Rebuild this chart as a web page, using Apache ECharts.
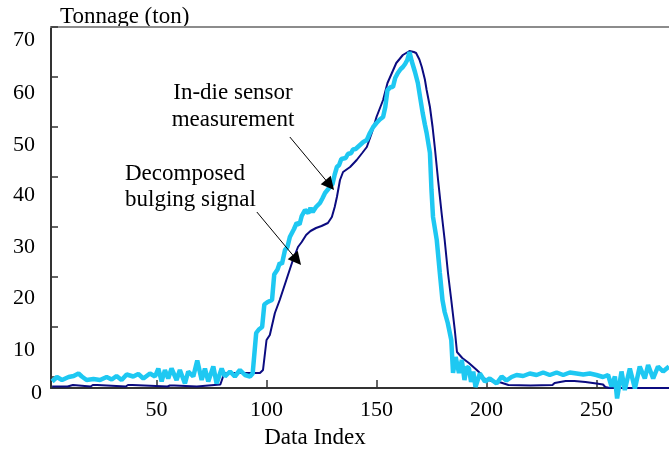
<!DOCTYPE html>
<html><head><meta charset="utf-8">
<script src="https://cdn.jsdelivr.net/npm/echarts@6/dist/echarts.min.js"></script>
<style>html,body{margin:0;padding:0;background:#fff}#c{width:669px;height:450px}</style>
</head><body><div id="c"></div>
<script>
// Data: [data index, tonnage]
const sensorMeasurement = [
[2.5,-0.9],[4.7,0],[7,-0.6],[10,0],[12.3,0.2],[14.5,0.7],[16,0.1],[18.2,-0.6],[21.3,-0.4],[24.3,-0.6],[27.3,0],[29.6,-0.5],[31.8,0.2],[34.1,-0.6],[36.4,0.5],[39.4,0.1],[41.7,0.6],[44,-0.3],[47,0.7],[49.3,0.1],[50.8,1.7],[52.3,-0.9],[53.8,1.4],[55.3,-0.3],[56.8,1.7],[59.1,-0.6],[60.6,1.4],[62.9,-1.3],[64.4,1.1],[66.7,0.1],[68.5,3.3],[70.5,-0.6],[72,1.7],[73.5,-0.9],[75.8,2.1],[77.3,-1.3],[79.6,1.7],[81.1,0.1],[83.4,1.1],[85.6,0.1],[87.9,1.4],[90.2,0.4],[92.5,0.1],[93.7,0.7],[94.5,0.5],[95.3,8.8],
[96.5,9.5],[98,10],[99,14.5],[100.5,15],[102.5,15.4],[103.5,20.5],[105,21.5],[106,22.8],[107,22.6],[108.4,25.4],[109.5,26],[110.6,28],[111.5,27.8],[112.5,29.6],[113.7,30.8],[115,30.5],[116,32.2],[117.5,33.4],[119,32.8],[120,33.8],[121,33],[122.5,34],[124.3,34.8],[125.5,35.8],[126.6,36.8],[127.5,36.6],[128.8,38],[130,38.6],[131,40.5],[132,42],[133,42.4],[134,43.6],[134.8,44],[136,43.8],[137,44.6],[138.5,44.8],[139.3,45.5],[140.5,45.6],[142.5,46.4],[144,47],[145.6,47.4],[147,48.8],[148.5,50],[150,50.8],[151.5,51.5],[153,52],[154,54],[154.7,54],[155,57.4],[156.5,58],[157.5,58],[158.5,59.8],[159.7,60.8],[161,61.6],[162,62],[163,62.6],[164,63.4],[165,65],[166,63.2],[166.6,62.8],[167.5,61],[168.8,58.8],[170,55.5],[171,52.8],[172,50.5],[172.8,48.8],[174.3,44.8],[175,37.4],[175.7,32],[177.4,27.4],[178.8,20.8],[180,15.4],[181,13],[182.4,10.8],[184,7.4],[184.8,0.8],[186,4],[187.5,0.8],[188.8,3.4],[190,-0.6],[191,2],[192,1.8],[193,-1],[194,1.1],[195,-2],[197,0.7],[199.3,-0.9],[201.5,-0.3],[204.6,-1.3],[206.9,0.1],[209.1,-0.7],[211.4,0],[213.7,0.4],[216.7,0.2],[219.7,0.7],[222.8,0.4],[225.8,0.9],[228.8,0.4],[231.9,0.9],[234.9,0.4],[237.9,0.9],[241,0.7],[244,0.5],[247,0.7],[250,0.4],[253,0],[255.3,0.4],[256.9,-1.9],[258.4,0.1],[259.4,-4.3],[261.4,1.1],[262.9,-2.6],[265.2,1.7],[267.5,-2.3],[269.7,2.1],[272,-0.3],[273.5,2.4],[275.8,-0.3],[278,2.1],[280.3,1.1],[283,2.1]
];
const bulgingSignal = [
[2.5,-1.9],[9.5,-1.9],[10,-1.6],[12,-1.6],[12.5,-1.9],[20,-1.9],[21,-1.6],[23,-1.6],[23.5,-1.9],[36,-1.9],[37,-1.6],[39,-1.6],[39.5,-1.9],[55,-1.9],[56,-1.7],[58,-1.7],[58.5,-1.9],[68.3,-1.9],[68.6,-1.5],[79,-1.5],[80.5,0.4],[81.5,0.8],[97,0.8],[98.4,1.4],[100,7.4],[101.5,8.4],[103.8,12.8],[106,15.4],[109,19.4],[112,23.4],[114.3,26],[116,27],[118,28.4],[120,29.2],[122.5,29.8],[125,30.2],[127.9,30.8],[129.7,32],[131,34],[132,36],[133.4,39.4],[134.8,41],[138,42],[141,43.4],[143.5,44.8],[145.6,46],[148,49],[150,52],[153,55.4],[155,58.8],[157,60.8],[159,62.8],[162,64.4],[165,65.2],[167,65],[168,64.8],[169.5,63.5],[170.6,62],[172,59.5],[172.8,57.4],[174.3,54],[175.5,50],[176.5,46],[178,39.4],[179.6,32.8],[181,27.4],[182.5,20.8],[184,15.4],[185.6,9.4],[186.6,5],[187.5,4.8],[189,3.8],[192,2.8],[195.6,1.4],[197,0.8],[199,-0.3],[203,-0.9],[206.5,-1.1],[210,-1.6],[220,-1.7],[230,-1.6],[231,-1.2],[236,-0.8],[240,-0.8],[245,-1],[250,-1.3],[253,-1.5],[254,-2],[256,-2.2],[283,-2.2]
];
const xTickValues = [50, 100, 150, 200, 250];
const yTickValues = [0, 10, 20, 30, 40, 50, 60, 70];
const arrowSensor = [[110.6, 48], [128.8, 38.4]];
const arrowBulging = [[95.6, 33], [113.8, 23.4]];

const FONT = '"Liberation Serif", "Times New Roman", serif';
const yRich = {
  y70: {padding: [26, 7, 0, 0]}, y60: {padding: [32, 7, 0, 0]}, y50: {padding: [36, 7, 0, 0]},
  y40: {padding: [36, 7, 0, 0]}, y30: {padding: [40, 7, 0, 0]}, y20: {padding: [42, 7, 0, 0]},
  y10: {padding: [46, 7, 0, 0]}, y0: {padding: [32, 0, 0, 0]}
};
Object.keys(yRich).forEach(k => { yRich[k].fontSize = 22; yRich[k].fontFamily = FONT; yRich[k].color = '#000'; });

const chart = echarts.init(document.getElementById('c'), null, {renderer: 'canvas'});
chart.setOption({
  animation: false,
  backgroundColor: '#fff',
  grid: {left: 51, right: 0, top: 27, bottom: 62, containLabel: false},
  xAxis: [{
    type: 'value', min: 2, max: 283, position: 'bottom',
    axisLine: {onZero: false, lineStyle: {color: '#333', width: 2}},
    axisTick: {inside: true, length: 8, customValues: xTickValues, lineStyle: {color: '#333', width: 1.5}},
    axisLabel: {customValues: xTickValues, margin: 11, fontSize: 22, fontFamily: FONT, color: '#000'},
    splitLine: {show: false}
  }, {
    type: 'value', min: 2, max: 283, position: 'top',
    axisLine: {onZero: false, lineStyle: {color: '#8c8c8c', width: 2}},
    axisTick: {show: false}, axisLabel: {show: false}, splitLine: {show: false}
  }],
  yAxis: {
    type: 'value', min: -2.2, max: 70,
    axisLine: {show: true, onZero: false, lineStyle: {color: '#333', width: 2}},
    axisTick: {inside: true, length: 7, customValues: yTickValues, lineStyle: {color: '#333', width: 1.5}},
    axisLabel: {customValues: yTickValues, margin: 9, formatter: v => '{y' + v + '|' + v + '}', rich: yRich},
    splitLine: {show: false}
  },
  graphic: [
    {type: 'text', x: 60, y: 17, style: {text: 'Tonnage (ton)', font: '23px ' + FONT, fill: '#000', align: 'left', verticalAlign: 'middle', textAlign: 'left', textVerticalAlign: 'middle'}},
    {type: 'text', x: 315, y: 438, style: {text: 'Data Index', font: '23px ' + FONT, fill: '#000', align: 'center', verticalAlign: 'middle', textAlign: 'center', textVerticalAlign: 'middle'}},
    {type: 'text', x: 233, y: 93, style: {text: 'In-die sensor', font: '23px ' + FONT, fill: '#000', align: 'center', verticalAlign: 'middle', textAlign: 'center', textVerticalAlign: 'middle'}},
    {type: 'text', x: 233, y: 120, style: {text: 'measurement', font: '23px ' + FONT, fill: '#000', align: 'center', verticalAlign: 'middle', textAlign: 'center', textVerticalAlign: 'middle'}},
    {type: 'text', x: 125, y: 174, style: {text: 'Decomposed', font: '23px ' + FONT, fill: '#000', align: 'left', verticalAlign: 'middle', textAlign: 'left', textVerticalAlign: 'middle'}},
    {type: 'text', x: 125, y: 200, style: {text: 'bulging signal', font: '23px ' + FONT, fill: '#000', align: 'left', verticalAlign: 'middle', textAlign: 'left', textVerticalAlign: 'middle'}}
  ],
  series: [{
    name: 'Decomposed bulging signal', type: 'line', data: bulgingSignal, showSymbol: false, symbol: 'none',
    clip: false, lineStyle: {color: '#0b0b80', width: 2}, z: 2
  }, {
    name: 'In-die sensor measurement', type: 'line', data: sensorMeasurement, showSymbol: false, symbol: 'none',
    clip: false, lineStyle: {color: '#1ec8f2', width: 4.5}, z: 3,
    markLine: {
      silent: true, symbol: ['none', 'triangle'], symbolSize: 13,
      label: {show: false},
      lineStyle: {color: '#000', width: 1, type: 'solid'},
      data: [
        [{coord: arrowSensor[0]}, {coord: arrowSensor[1]}],
        [{coord: arrowBulging[0]}, {coord: arrowBulging[1]}]
      ]
    }
  }]
});
</script></body></html>
